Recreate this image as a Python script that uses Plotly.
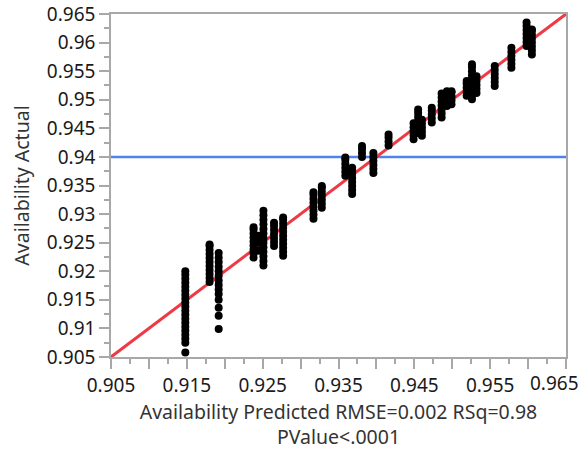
import plotly.graph_objects as go

# Predicted value of each column of points, and the actual values in that column
col_pred = [0.9148, 0.9180, 0.9192, 0.9238, 0.9245, 0.9251, 0.9265, 0.9277,
            0.9317, 0.9328, 0.9359, 0.9368, 0.9381, 0.9396, 0.9416,
            0.9449, 0.9455, 0.9460, 0.9473, 0.9486, 0.9493, 0.9499,
            0.9519, 0.9526, 0.9532, 0.9556, 0.9578, 0.9598, 0.9605]
col_actual = [
    [0.9058, 0.9075, 0.9082, 0.9089, 0.9096, 0.9103, 0.9110, 0.9117, 0.9124, 0.9131,
     0.9138, 0.9145, 0.9152, 0.9159, 0.9166, 0.9173, 0.9180, 0.9187, 0.9194, 0.9200],
    [0.9181, 0.9188, 0.9195, 0.9202, 0.9209, 0.9216, 0.9223, 0.9230, 0.9237, 0.9244, 0.9247],
    [0.9099, 0.9122, 0.9136, 0.9150, 0.9160, 0.9168, 0.9176, 0.9184, 0.9192, 0.9200,
     0.9208, 0.9216, 0.9224, 0.9232],
    [0.9224, 0.9231, 0.9238, 0.9245, 0.9252, 0.9259, 0.9266, 0.9273, 0.9277],
    [0.9236, 0.9250, 0.9262],
    [0.9210, 0.9218, 0.9226, 0.9234, 0.9242, 0.9250, 0.9258, 0.9266, 0.9274, 0.9282,
     0.9290, 0.9298, 0.9306],
    [0.9244, 0.9251, 0.9258, 0.9265, 0.9272, 0.9279, 0.9285],
    [0.9227, 0.9234, 0.9241, 0.9248, 0.9255, 0.9262, 0.9269, 0.9276, 0.9283, 0.9290, 0.9294],
    [0.9292, 0.9299, 0.9306, 0.9313, 0.9320, 0.9327, 0.9334, 0.9338],
    [0.9311, 0.9318, 0.9325, 0.9332, 0.9339, 0.9346, 0.9349],
    [0.9367, 0.9374, 0.9381, 0.9388, 0.9395, 0.9399],
    [0.9335, 0.9342, 0.9349, 0.9356, 0.9363, 0.9370, 0.9377, 0.9381],
    [0.9400, 0.9407, 0.9414, 0.9419],
    [0.9372, 0.9379, 0.9386, 0.9393, 0.9400, 0.9407],
    [0.9420, 0.9427, 0.9434, 0.9439],
    [0.9431, 0.9438, 0.9445, 0.9452, 0.9459],
    [0.9442, 0.9449, 0.9456, 0.9463, 0.9470, 0.9477, 0.9483],
    [0.9437, 0.9444, 0.9451, 0.9458, 0.9465],
    [0.9460, 0.9467, 0.9474, 0.9481, 0.9486],
    [0.9469, 0.9476, 0.9483, 0.9490, 0.9497, 0.9504, 0.9511],
    [0.9489, 0.9496, 0.9503, 0.9510, 0.9515],
    [0.9492, 0.9499, 0.9506, 0.9513, 0.9515],
    [0.9507, 0.9514, 0.9521, 0.9528, 0.9533],
    [0.9501, 0.9508, 0.9515, 0.9522, 0.9529, 0.9536, 0.9543, 0.9550, 0.9557, 0.9562],
    [0.9512, 0.9519, 0.9526, 0.9533, 0.9541],
    [0.9524, 0.9531, 0.9538, 0.9545, 0.9552, 0.9559],
    [0.9556, 0.9563, 0.9570, 0.9577, 0.9584, 0.9591],
    [0.9594, 0.9601, 0.9608, 0.9615, 0.9622, 0.9629, 0.9635],
    [0.9579, 0.9586, 0.9593, 0.9600, 0.9607, 0.9614, 0.9621, 0.9623],
]

fit_x = [0.905, 0.965]
fit_y = [0.905, 0.965]
mean_actual = 0.94

axis_range = [0.905, 0.965]
x_tickvals = [0.905, 0.910, 0.915, 0.920, 0.925, 0.930, 0.935, 0.940, 0.945, 0.950, 0.955, 0.960, 0.965]
x_ticktext = ["0.905", "", "0.915", "", "0.925", "", "0.935", "", "0.945", "", "0.955", "", ""]
x_last_label = "0.965"   # drawn right-aligned at the axis end so it stays inside the page
y_tickvals = x_tickvals
y_ticktext = ["0.905", "0.91", "0.915", "0.92", "0.925", "0.93", "0.935", "0.94",
              "0.945", "0.95", "0.955", "0.96", "0.965"]

pts_x, pts_y = [], []
for px, ys in zip(col_pred, col_actual):
    for yv in ys:
        pts_x.append(px)
        pts_y.append(yv)

FONT = "Noto Sans"
fig = go.Figure()
fig.add_trace(go.Scatter(x=axis_range, y=[mean_actual, mean_actual], mode="lines",
                         line=dict(color="#4f82ec", width=2.5), hoverinfo="skip"))
fig.add_trace(go.Scatter(x=fit_x, y=fit_y, mode="lines",
                         line=dict(color="#ee3a45", width=3), hoverinfo="skip"))
fig.add_trace(go.Scatter(x=pts_x, y=pts_y, mode="markers",
                         marker=dict(color="black", size=8, line=dict(width=0))))

axis_common = dict(
    range=axis_range, showgrid=False, zeroline=False, automargin=False,
    showline=True, linecolor="#a8a8a8", linewidth=1.5, mirror=True,
    ticks="outside", ticklen=10, tickcolor="#a8a8a8", tickwidth=1.5,
    tickfont=dict(family=FONT, size=19, color="#1a1a1a"),
    minor=dict(dtick=0.0025, tick0=0.905, ticks="outside", ticklen=5,
               tickcolor="#a8a8a8", tickwidth=1.5),
)
fig.update_xaxes(**axis_common, tickmode="array", tickvals=x_tickvals, ticktext=x_ticktext,
                 title=dict(text="Availability Predicted RMSE=0.002 RSq=0.98<br>PValue&lt;.0001",
                            font=dict(family=FONT, size=19.5, color="#333333"), standoff=4))
fig.update_yaxes(**axis_common, tickmode="array", tickvals=y_tickvals, ticktext=y_ticktext,
                 title=dict(text="Availability Actual",
                            font=dict(family=FONT, size=19.5, color="#333333"), standoff=12))

fig.add_annotation(x=axis_range[1], xref="x", y=0, yref="paper", text=x_last_label,
                   showarrow=False, xanchor="right", yanchor="middle", xshift=15, yshift=-26,
                   font=dict(family=FONT, size=19, color="#1a1a1a"))

fig.update_layout(
    width=583, height=451, showlegend=False,
    margin=dict(l=111, r=17, t=14, b=94),
    plot_bgcolor="white", paper_bgcolor="white",
)
fig.write_html("out.html")
